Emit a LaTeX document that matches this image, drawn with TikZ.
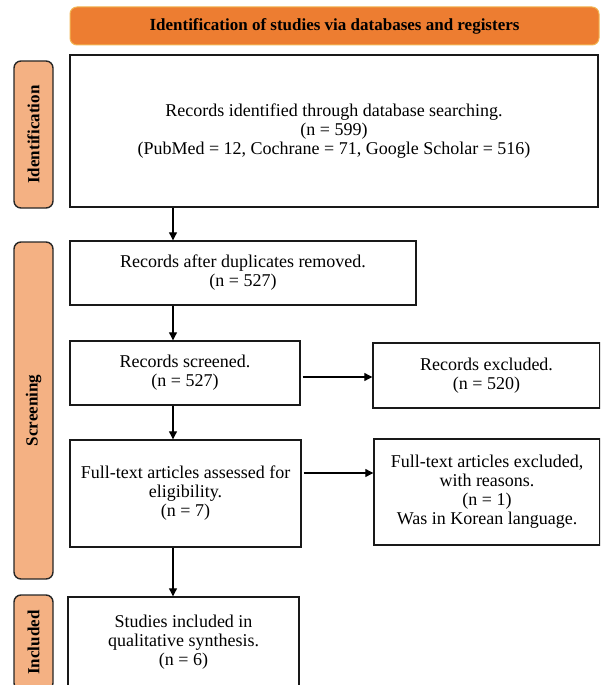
\documentclass[tikz,border=0pt]{standalone}
\usepackage{fontspec}
\setmainfont{Liberation Serif}
\usetikzlibrary{arrows.meta}
\definecolor{headcol}{HTML}{ED7D31}
\definecolor{headborder}{HTML}{F2B552}
\definecolor{sidecol}{HTML}{F4B183}
\newcommand\mfs{\fontsize{18}{19}\selectfont}
\newcommand\bfs{\fontsize{17}{18}\selectfont\bfseries}
\begin{document}
\begin{tikzpicture}[x=1pt,y=-1pt,
  box/.style={draw=black!90, line width=1.4pt, fill=white, align=center, inner sep=2pt, font=\mfs},
  side/.style={draw=black!85, line width=1.4pt, fill=sidecol, rounded corners=7pt, rotate=90, inner sep=0pt, minimum height=39pt, font=\bfs},
  head/.style={draw=headborder, line width=1pt, fill=headcol, rounded corners=7pt, inner sep=0pt, font=\bfs},
  arr/.style={-{Triangle[length=8pt,width=8pt]}, line width=1.1pt}]
\useasboundingbox (0,0) rectangle (600,685);
\clip (0,0) rectangle (600,685);

\node[head, minimum width=529pt, minimum height=38pt] (head) at (334.5,26) {Identification of studies via databases and registers};

\node[side, minimum width=147pt] (sid) at (33.5,134.5) {Identification};
\node[side, minimum width=337pt] (sscr) at (33.5,410.5) {Screening};
\node[side, minimum width=95pt] (sinc) at (33.5,642.5) {Included};

\node[box, minimum width=528pt, minimum height=152pt] (b1) at (334,131) {Records identified through database searching.\\(n = 599)\\(PubMed = 12, Cochrane = 71, Google Scholar = 516)};
\node[box, minimum width=346pt, minimum height=64pt] (b2) at (243,273) {Records after duplicates removed.\\(n = 527)};
\node[box, minimum width=230pt, minimum height=64pt] (b3) at (185,373) {Records screened.\\(n = 527)};
\node[box, minimum width=227pt, minimum height=65pt] (e1) at (486.5,375.5) {Records excluded.\\(n = 520)};
\node[box, minimum width=231pt, minimum height=107pt] (b4) at (185.5,493.5) {Full-text articles assessed for\\eligibility.\\(n = 7)};
\node[box, minimum width=226pt, minimum height=106pt] (e2) at (487,492) {Full-text articles excluded,\\with reasons.\\(n = 1)\\Was in Korean language.};
\node[box, minimum width=231pt, minimum height=91pt] (b5) at (183.5,642.5) {Studies included in\\qualitative synthesis.\\(n = 6)};

\coordinate (vx) at (173,0);
\coordinate (h1) at (0,377);
\coordinate (h2) at (0,473);
\draw[arr] (b1.south -| vx) -- (b2.north -| vx);
\draw[arr] (b2.south -| vx) -- (b3.north -| vx);
\draw[arr] (b3.south -| vx) -- (b4.north -| vx);
\draw[arr] (b4.south -| vx) -- (b5.north -| vx);
\draw[arr] ([xshift=2pt]b3.east |- h1) -- (e1.west |- h1);
\draw[arr] ([xshift=2pt]b4.east |- h2) -- (e2.west |- h2);
\end{tikzpicture}
\end{document}
